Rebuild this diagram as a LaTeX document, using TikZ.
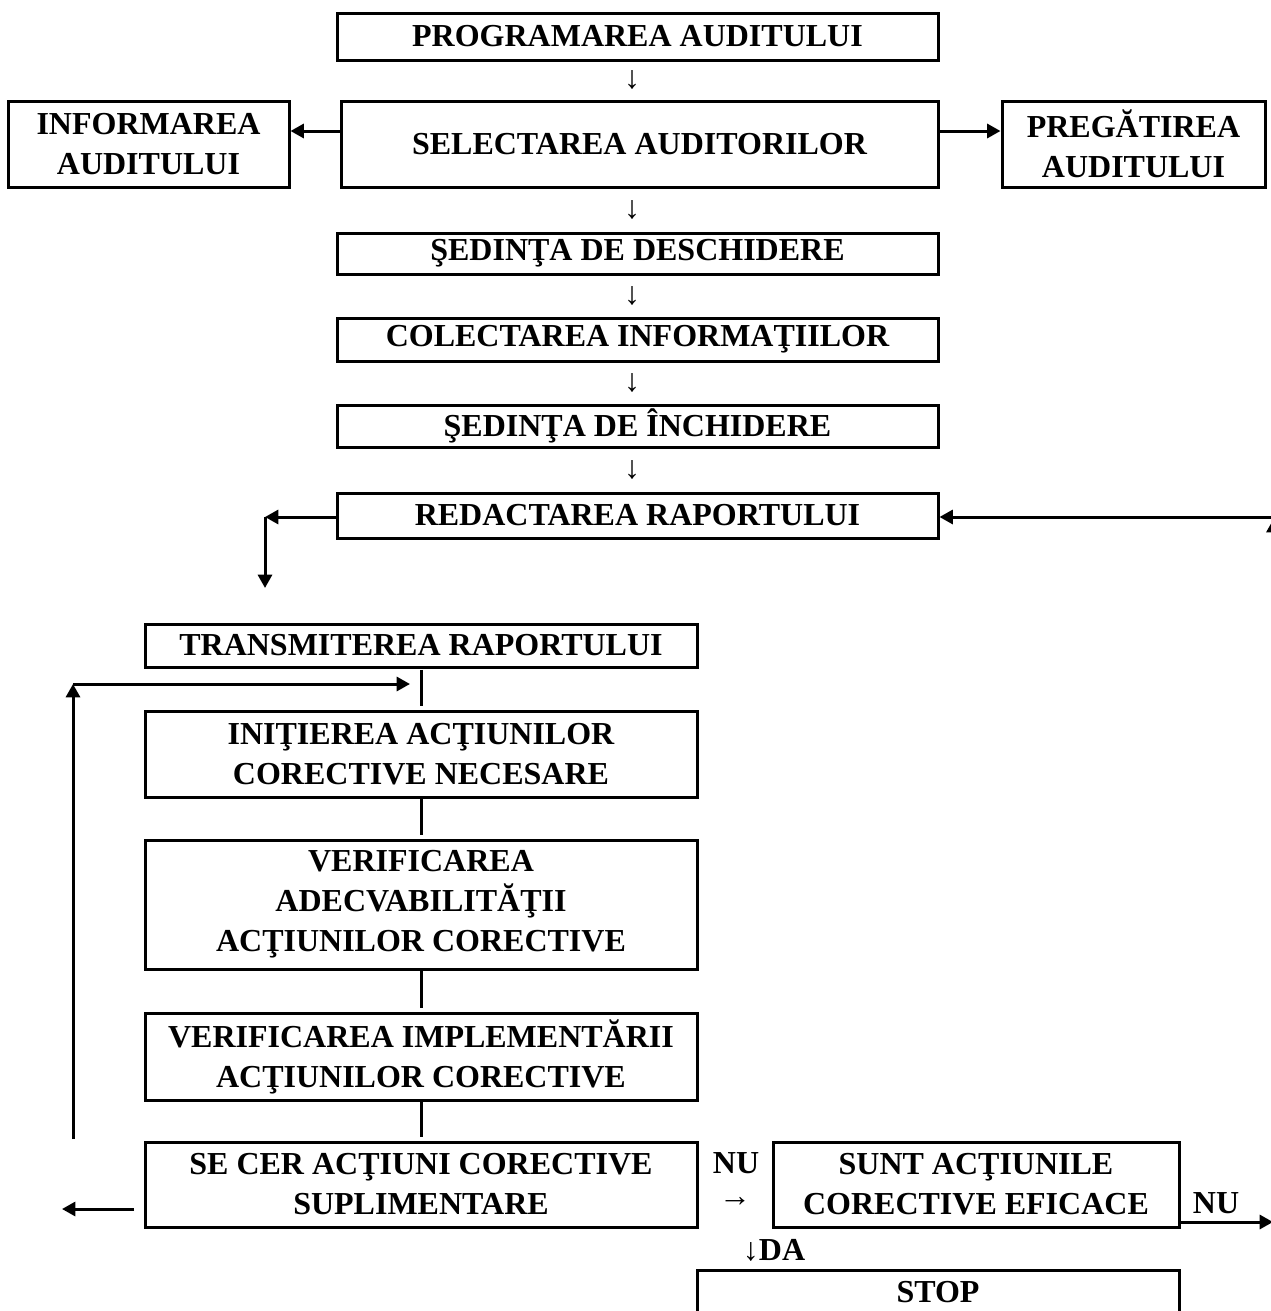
\documentclass[tikz,border=0pt]{standalone}
\usepackage{fontspec}
\setmainfont{Liberation Serif}
\usetikzlibrary{arrows.meta}

\tikzset{
  box/.style={draw, line width=2.25pt, inner sep=0pt, align=center,
    font=\fontsize{24}{30}\selectfont\bfseries},
  arr/.style={line width=2.25pt, -{Triangle[length=10pt,width=10.5pt]}},
  link/.style={line width=2.25pt},
  glyph/.style={inner sep=0pt, font=\fontsize{24}{30}\selectfont},
  lbl/.style={inner sep=0pt, font=\fontsize{24}{30}\selectfont\bfseries},
}

\begin{document}
\begin{tikzpicture}[x=0.75pt,y=-0.75pt]
\useasboundingbox (0,0) rectangle (1271,1311);

% upper chain
\node[box, minimum width=450.75pt, minimum height=35.25pt] (prog) at (637.5,36.5) {PROGRAMAREA AUDITULUI};
\node[box, minimum width=210.75pt, minimum height=64.5pt] (info) at (148.5,144) {INFORMAREA\\AUDITULUI};
\node[box, minimum width=447.75pt, minimum height=64.5pt] (sel) at (639.5,144) {SELECTAREA AUDITORILOR};
\node[box, minimum width=197.25pt, minimum height=64.5pt] (preg) at (1133.5,144) {PREGĂTIREA\\AUDITULUI};
\node[box, minimum width=450.75pt, minimum height=30.75pt] (desc) at (637.5,253.5) {ŞEDINŢA DE DESCHIDERE};
\node[box, minimum width=450.75pt, minimum height=32.25pt] (colec) at (637.5,339.5) {COLECTAREA INFORMAŢIILOR};
\node[box, minimum width=450.75pt, minimum height=31.5pt] (inch) at (637.5,426) {ŞEDINŢA DE ÎNCHIDERE};
\node[box, minimum width=450.75pt, minimum height=33.75pt] (red) at (637.5,515.5) {REDACTAREA RAPORTULUI};

% down arrows between the upper boxes
\node[glyph] (d1) at (632,80) {↓};
\node[glyph] (d2) at (632,210) {↓};
\node[glyph] (d3) at (632,296) {↓};
\node[glyph] (d4) at (632,383) {↓};
\node[glyph] (d5) at (632,470) {↓};

% side arrows of the selection step
\coordinate (yA) at (0,131);
\draw[arr] (yA -| sel.west) -- (yA -| info.east);
\draw[arr] (yA -| sel.east) -- (yA -| preg.west);

% lower chain
\node[box, minimum width=414pt, minimum height=32.25pt] (trans) at (421,645.5) {TRANSMITEREA RAPORTULUI};
\node[box, minimum width=414pt, minimum height=64.5pt] (init) at (421,754) {INIŢIEREA ACŢIUNILOR\\CORECTIVE NECESARE};
\node[box, minimum width=414pt, minimum height=96.75pt] (vadec) at (421,904.5) {VERIFICAREA\\ADECVABILITĂŢII\\ACŢIUNILOR CORECTIVE};
\node[box, minimum width=414pt, minimum height=65.25pt] (vimpl) at (421,1056.5) {VERIFICAREA IMPLEMENTĂRII\\ACŢIUNILOR CORECTIVE};
\node[box, minimum width=414pt, minimum height=63.75pt] (secer) at (421,1184.5) {SE CER ACŢIUNI CORECTIVE\\SUPLIMENTARE};
\node[box, minimum width=304.5pt, minimum height=63.75pt] (sunt) at (976,1184.5) {SUNT ACŢIUNILE\\CORECTIVE EFICACE};
\node[box, minimum width=361.5pt, minimum height=37.5pt] (stop) at (938,1295) {};
\node[lbl] (stoptxt) at (938,1292) {STOP};

% short links down the lower chain
\draw[link, shorten <=1pt, shorten >=3pt] (trans.south) -- (init.north);
\draw[link, shorten >=3pt] (init.south) -- (vadec.north);
\draw[link, shorten >=3pt] (vadec.south) -- (vimpl.north);
\draw[link, shorten >=3pt] (vimpl.south) -- (secer.north);

% report goes on to transmission
\coordinate (yR) at (0,517);
\coordinate (cL) at (265,517);
\coordinate (cLd) at (265,588);
\draw[arr] (yR -| red.west) -- (cL);
\draw[arr] (cL) -- (cLd);

% return line from the right edge
\coordinate (rEnd) at (1275,517);
\draw[arr] (rEnd) -- (yR -| red.east);
\coordinate (rUpB) at (1273.5,700);
\coordinate (rUpT) at (1273.5,519);
\draw[arr] (rUpB) -- (rUpT);

% loop back on the left
\coordinate (loopB) at (73,1139);
\coordinate (loopT) at (73,684);
\coordinate (loopE) at (410,684);
\draw[arr] (loopB) -- (loopT);
\draw[arr] (loopT) -- (loopE);

% exit to the left of the last check
\coordinate (outA) at (134,1209);
\coordinate (outB) at (62,1209);
\draw[arr] (outA) -- (outB);

% NU / DA labels
\node[lbl] (nu1) at (736,1163) {NU};
\node[glyph] (nu1a) at (735,1202) {→};
\node[lbl] (nu2) at (1216,1203) {NU};
\coordinate (yN) at (0,1222);
\coordinate (nuEnd) at (1273,1222);
\draw[arr] (yN -| sunt.east) -- (nuEnd);
\node[lbl] (da) at (774,1250) {\textmd{↓}DA};
\end{tikzpicture}
\end{document}
